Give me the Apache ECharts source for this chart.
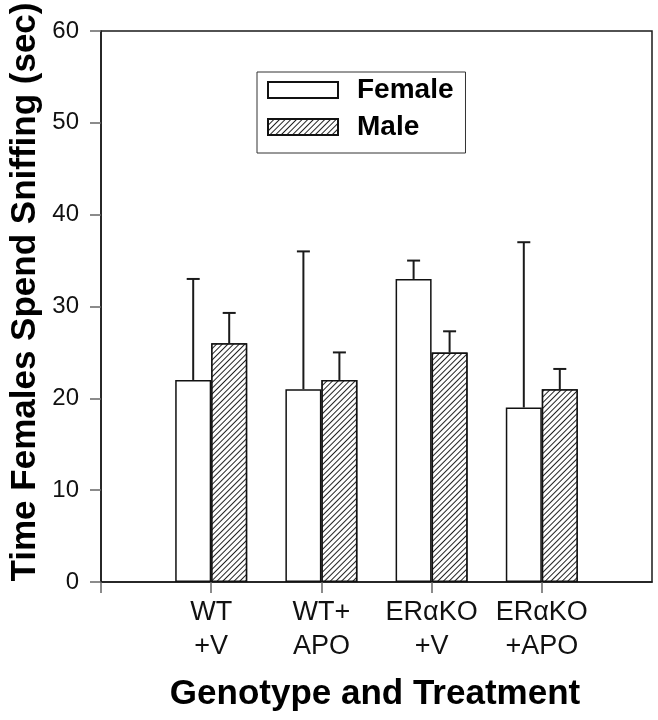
<!DOCTYPE html>
<html>
<head>
<meta charset="utf-8">
<script src="https://cdn.jsdelivr.net/npm/echarts@6/dist/echarts.min.js"></script>
<style>html,body{margin:0;padding:0;background:#fff;}#c{width:658px;height:720px;}</style>
</head>
<body>
<div id="c"></div>
<script>
// ---- data ----
var categories = ['', 'WT\n+V', 'WT+\nAPO', 'ER\u03b1KO\n+V', 'ER\u03b1KO\n+APO', ''];
var groupIndex = [1, 2, 3, 4];
var femaleMeans = [22, 21, 33, 19];
var femaleErr = [11, 15, 2, 18];
var maleMeans = [26, 22, 25, 21];
var maleErr = [3.3, 3, 2.3, 2.2];
var yTicks = [0, 10, 20, 30, 40, 50, 60];
var xTitle = 'Genotype and Treatment';
var yTitle = 'Time Females Spend Sniffing (sec)';

var FONT = '"Liberation Sans", Arial, sans-serif';
var BARW = 36;

function barData(vals) {
  return vals.map(function (v, i) { return [groupIndex[i], v]; });
}
function errData(vals, errs) {
  return vals.map(function (v, i) { return [groupIndex[i], v, v + errs[i]]; });
}
function errRender(offset) {
  return function (params, api) {
    var base = api.coord([api.value(0), api.value(1)]);
    var top = api.coord([api.value(0), api.value(2)]);
    var x = base[0] + offset;
    var style = { stroke: '#1a1a1a', lineWidth: 2 };
    return {
      type: 'group',
      children: [
        { type: 'line', shape: { x1: x, y1: base[1], x2: x, y2: top[1] }, style: style },
        { type: 'line', shape: { x1: x - 6.5, y1: top[1], x2: x + 6.5, y2: top[1] }, style: style }
      ]
    };
  };
}

var chart = echarts.init(document.getElementById('c'));
chart.setOption({
  animation: false,
  backgroundColor: '#fff',
  grid: { left: 101, right: 6, top: 31, bottom: 138, containLabel: false, outerBoundsMode: 'none',
    show: true, borderColor: '#1a1a1a', borderWidth: 1.5, backgroundColor: 'transparent' },
  legend: {
    orient: 'vertical', left: 257, top: 72,
    data: ['Female', 'Male'], icon: 'rect',
    itemWidth: 70, itemHeight: 16, itemGap: 9,
    borderColor: '#333', borderWidth: 1, borderRadius: 0,
    padding: [4, 12, 12, 10],
    textStyle: { fontFamily: FONT, fontWeight: 'bold', fontSize: 28, color: '#000', lineHeight: 28, padding: [0, 0, 0, 14] }
  },
  graphic: [
    { type: 'text', x: 375, y: 694, z: 10,
      style: { text: xTitle, font: 'bold 35px ' + FONT, fill: '#000', textAlign: 'center', textVerticalAlign: 'middle' } },
    { type: 'text', x: 25, y: 292, rotation: Math.PI / 2, z: 10,
      style: { text: yTitle, font: 'bold 35px ' + FONT, fill: '#000', textAlign: 'center', textVerticalAlign: 'middle' } }
  ],
  xAxis: {
    type: 'category', data: categories, boundaryGap: false,
    axisLine: { lineStyle: { color: '#1a1a1a', width: 1.5 } },
    axisTick: { show: true, length: 11, lineStyle: { color: '#666', width: 1.5 }, interval: function (i) { return i < 5; } },
    axisLabel: { interval: 0, fontFamily: FONT, fontSize: 27, color: '#111', lineHeight: 34, margin: 14 }
  },
  yAxis: {
    type: 'value', min: 0, max: 60, interval: 10,
    splitLine: { show: false },
    axisLine: { show: true, lineStyle: { color: '#1a1a1a', width: 1.5 } },
    axisTick: { show: true, length: 11, lineStyle: { color: '#666', width: 1.5 } },
    axisLabel: { fontFamily: FONT, fontSize: 24, color: '#111', margin: 22,
      formatter: function (v) { return yTicks.indexOf(v) >= 0 ? String(v) : ''; } }
  },
  series: [
    {
      name: 'Female', type: 'bar', data: barData(femaleMeans), barWidth: BARW, barGap: '0%',
      itemStyle: { color: '#fff', borderColor: '#111', borderWidth: 1.5 }, z: 2
    },
    {
      name: 'Male', type: 'bar', data: barData(maleMeans), barWidth: BARW, barGap: '0%',
      itemStyle: {
        color: '#fff', borderColor: '#111', borderWidth: 1.5,
        decal: { symbol: 'rect', symbolSize: 1, dashArrayX: [1, 0], dashArrayY: [1, 3], rotation: -Math.PI / 4, color: '#222', backgroundColor: '#fff' }
      }, z: 2
    },
    { type: 'custom', data: errData(femaleMeans, femaleErr), renderItem: errRender(-BARW / 2), z: 3, silent: true },
    { type: 'custom', data: errData(maleMeans, maleErr), renderItem: errRender(BARW / 2), z: 3, silent: true }
  ]
});
</script>
</body>
</html>
